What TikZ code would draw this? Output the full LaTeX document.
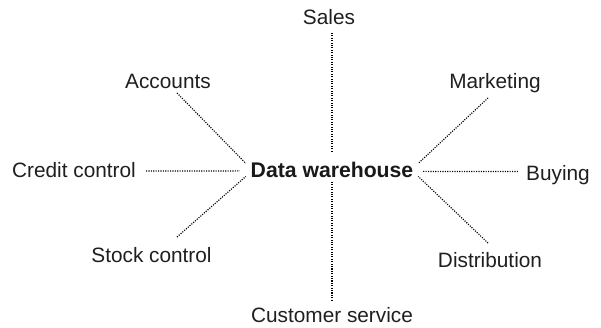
\documentclass[tikz,border=0pt]{standalone}
\usepackage{fontspec}
\setmainfont{Liberation Sans}
\begin{document}
\begin{tikzpicture}[x=1pt,y=-1pt,
  lbl/.style={anchor=base,inner sep=0pt,text=black!88,font=\fontsize{20.8}{25}\selectfont},
  hub/.style={anchor=base,inner ysep=0pt,inner xsep=4.7pt,text=black!90,font=\fontsize{21.2}{25}\selectfont\bfseries},
  conn/.style={draw=black,line width=1.15pt,dash pattern=on 1.1pt off 1.3pt}]
\useasboundingbox (0,0) rectangle (601,328);
\node[hub] (dw) at (332,178) {Data warehouse};
\node[lbl] (sales) at (329,25) {Sales};
\node[lbl] (accounts) at (168,89) {Accounts};
\node[lbl] (marketing) at (495,89) {Marketing};
\node[lbl] (credit) at (74,178) {Credit control};
\node[lbl] (buying) at (558,181) {Buying};
\node[lbl] (stock) at (151.5,262) {Stock control};
\node[lbl] (distribution) at (490,267) {Distribution};
\node[lbl] (customer) at (332,322) {Customer service};
% free ends of the connectors
\coordinate (salesEnd) at (332,33);
\coordinate (customerEnd) at (332,300);
\coordinate (creditEnd) at (146,171);
\coordinate (buyingEnd) at (519,171.5);
\coordinate (accountsEnd) at (177,93);
\coordinate (stockEnd) at (177,237);
\coordinate (marketingEnd) at (488,98);
\coordinate (distributionEnd) at (488,243);
% hub-side points
\coordinate (dwTop) at (332,152);
\coordinate (dwBottom) at (332,182);
% connectors
\draw[conn] (salesEnd) -- (dwTop);
\draw[conn] (dwBottom) -- (customerEnd);
\draw[conn] (creditEnd) -- ([xshift=-6pt,yshift=-0.5pt]dw.west);
\draw[conn] ([xshift=5pt,yshift=-1pt]dw.east) -- (buyingEnd);
\draw[conn] (accountsEnd) -- ([yshift=7pt]dw.west);
\draw[conn] (stockEnd) -- ([yshift=-6pt]dw.west);
\draw[conn] (marketingEnd) -- ([yshift=7pt]dw.east);
\draw[conn] (distributionEnd) -- ([yshift=-6pt]dw.east);
\end{tikzpicture}
\end{document}
